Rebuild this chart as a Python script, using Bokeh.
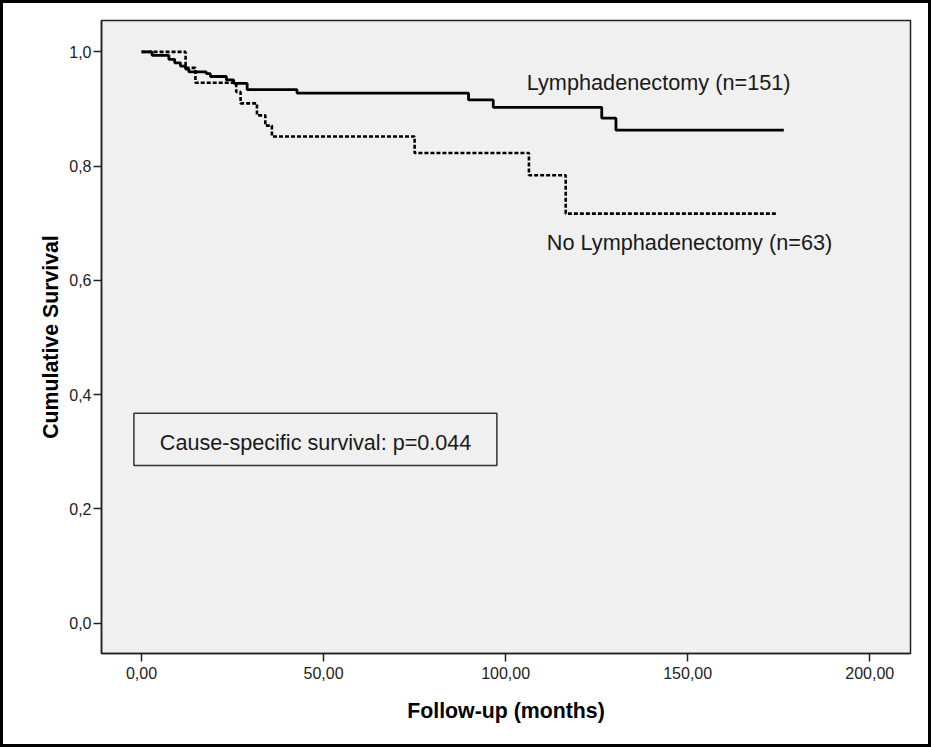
from bokeh.plotting import figure
from bokeh.models import (FixedTicker, CustomJSTickFormatter, Range1d, Label,
                          BoxAnnotation)
from bokeh.embed import file_html
from bokeh.resources import INLINE

# --- data ---
lymph_time = [0, 2.9, 7.5, 9.1, 10.7, 12.1, 13.0, 17.8, 18.9, 23.3, 25.3, 29.0,
              42.7, 89.8, 96.6, 126.4, 130.3, 176.4]
lymph_surv = [1.0, 0.994, 0.987, 0.981, 0.975, 0.970, 0.965, 0.962, 0.957, 0.951,
              0.945, 0.934, 0.928, 0.916, 0.903, 0.884, 0.863, 0.863]

nolymph_time = [0, 12.1, 14.8, 26.0, 27.2, 31.7, 34.0, 35.8, 75.0, 106.4, 116.5, 174.6]
nolymph_surv = [1.0, 0.972, 0.946, 0.930, 0.910, 0.889, 0.871, 0.852, 0.823, 0.784,
                0.717, 0.717]

x_ticks = [0, 50, 100, 150, 200]
y_ticks = [0.0, 0.2, 0.4, 0.6, 0.8, 1.0]

lymph_label = "Lymphadenectomy (n=151)"
nolymph_label = "No Lymphadenectomy (n=63)"
box_text = "Cause-specific survival: p=0.044"
x_title = "Follow-up (months)"
y_title = "Cumulative Survival"

FONT = "Liberation Sans"

p = figure(width=931, height=747, output_backend="svg", toolbar_location=None,
           x_range=Range1d(-11.0, 211.2), y_range=Range1d(-0.053, 1.055),
           min_border_left=101, min_border_right=21, min_border_top=20,
           min_border_bottom=94)
# black picture border, drawn by the page element behind a transparent canvas border
p.styles = {"outline": "3px solid black", "outline-offset": "-3px",
            "box-shadow": "inset 0 0 0 3px black", "background-color": "white"}

p.background_fill_color = "#f0f0f0"
p.border_fill_color = None
p.outline_line_color = "#222222"
p.outline_line_width = 1.5
p.grid.visible = False

for ax in (p.xaxis[0], p.yaxis[0]):
    ax.axis_line_color = "#222222"
    ax.axis_line_width = 1.5
    ax.major_tick_line_color = "#222222"
    ax.major_tick_line_width = 1.5
    ax.major_tick_out = 8
    ax.major_tick_in = 0
    ax.minor_tick_line_color = None
    ax.major_label_text_font = FONT
    ax.major_label_text_font_size = "16px"
    ax.major_label_text_color = "#222222"
    ax.axis_label_text_font = FONT
    ax.axis_label_text_font_size = "21.3px"
    ax.axis_label_text_font_style = "bold"
    ax.axis_label_text_color = "black"

p.xaxis.ticker = FixedTicker(ticks=x_ticks)
p.yaxis.ticker = FixedTicker(ticks=y_ticks)
p.xaxis.formatter = CustomJSTickFormatter(code="return tick.toFixed(2).replace('.', ',');")
p.yaxis.formatter = CustomJSTickFormatter(code="return tick.toFixed(1).replace('.', ',');")
p.xaxis.axis_label = x_title
p.yaxis.axis_label = y_title
p.xaxis.major_label_standoff = 5
p.yaxis.major_label_standoff = 2
p.xaxis.axis_label_standoff = 17
p.yaxis.axis_label_standoff = 3

p.step(lymph_time, lymph_surv, mode="after", line_color="black", line_width=2.8)
p.step(nolymph_time, nolymph_surv, mode="after", line_color="black", line_width=2.6,
       line_dash="4 2")

p.add_layout(Label(x=105.8, y=0.9466, text=lymph_label, text_font=FONT,
                   text_font_size="21.7px", text_color="#1a1a1a",
                   text_baseline="middle", text_align="left"))
p.add_layout(Label(x=111.3, y=0.6656, text=nolymph_label, text_font=FONT,
                   text_font_size="21.7px", text_color="#1a1a1a",
                   text_baseline="middle", text_align="left"))

p.add_layout(BoxAnnotation(left=-2.1, right=97.6, bottom=0.276, top=0.3676,
                           fill_color="#f0f0f0", fill_alpha=1.0,
                           line_color="#333333", line_alpha=1.0, line_width=1.5))
p.add_layout(Label(x=47.8, y=0.3165, text=box_text, text_font=FONT,
                   text_font_size="21.6px", text_color="#1a1a1a",
                   text_baseline="middle", text_align="center"))

open("out.html", "w").write(file_html(p, INLINE))
